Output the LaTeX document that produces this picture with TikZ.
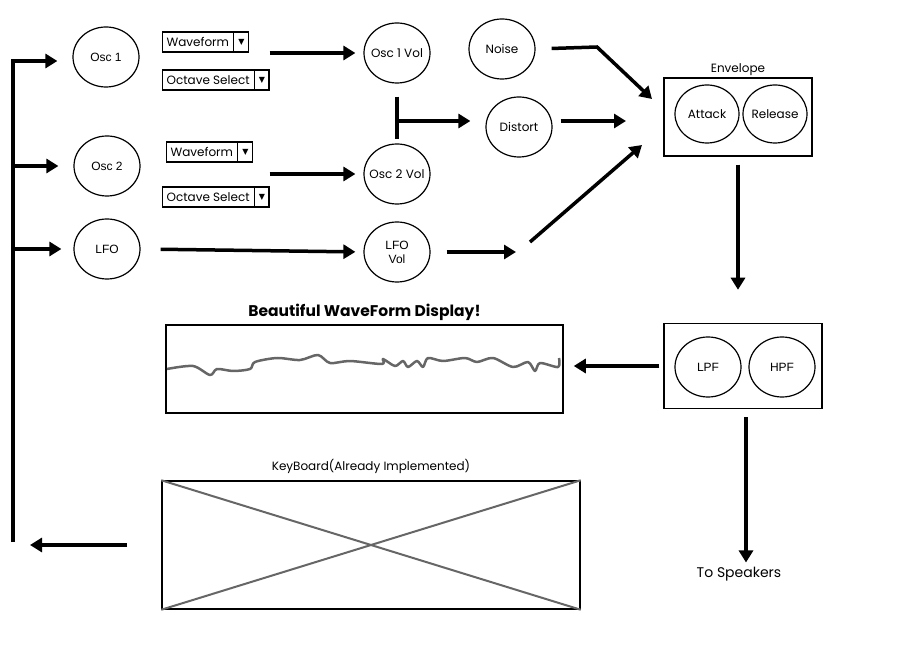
\documentclass[tikz,border=0pt]{standalone}
\usepackage{fontspec}
\setmainfont{Liberation Sans}
\newfontfamily\sketchfont{Poppins}
\newfontfamily\symfont{DejaVu Sans}
\usetikzlibrary{positioning,shapes.geometric,shapes.multipart,arrows.meta}

\tikzset{
  knob/.style={ellipse, draw, line width=1.2pt, minimum width=66pt, minimum height=60pt,
    inner xsep=-12pt, inner ysep=0pt, font=\fontsize{12}{14}\selectfont},
  sketch/.style={font=\sketchfont\fontsize{12}{14}\selectfont},
  dropbox/.style={rectangle split, rectangle split horizontal, rectangle split parts=2,
    draw, line width=1.2pt, inner xsep=4pt, inner ysep=5pt, anchor=west,
    font=\sketchfont\fontsize{12}{13}\selectfont},
  panel/.style={draw, line width=1.5pt, inner sep=0pt},
  flow/.style={->, line width=3.5pt},
}
\newcommand\dnarrow{{\symfont\fontsize{8}{9}\selectfont ▼}}

\begin{document}
\begin{tikzpicture}[x=1pt, y=-1pt, >={Triangle[length=12pt, width=14pt]}]
  \useasboundingbox (0,0) rectangle (908,668);

  % sources
  \node[knob] (osc1) at (106,57) {Osc 1};
  \node[knob] (osc2) at (107,166) {Osc 2};
  \node[knob] (lfo) at (107,249) {LFO};

  % selectors
  \node[dropbox] (wf1) at (162,42) {Waveform\nodepart{two}\dnarrow};
  \node[dropbox] (oct1) at (162,80) {Octave Select\nodepart{two}\dnarrow};
  \node[dropbox] (wf2) at (166,152) {Waveform\nodepart{two}\dnarrow};
  \node[dropbox] (oct2) at (162,197) {Octave Select\nodepart{two}\dnarrow};

  % volumes and effects
  \node[knob, sketch] (vol1) at (397,53) {Osc 1 Vol};
  \node[knob, sketch] (vol2) at (397,174) {Osc 2 Vol};
  \node[knob, align=center, inner xsep=0pt] (lfovol) at (397,252) {LFO\\Vol};
  \node[knob, sketch] (noise) at (502,49) {Noise};
  \node[knob, sketch] (distort) at (519,127) {Distort};

  % envelope
  \node[panel, minimum width=148pt, minimum height=78pt,
    label={[sketch, inner sep=1pt]above:Envelope}] (env) at (738,117) {};
  \node[knob, sketch, minimum width=64pt, minimum height=58pt] (attack) at (707,114) {Attack};
  \node[knob, sketch, minimum width=64pt, minimum height=58pt] (release) at (775,114) {Release};

  % filters
  \node[panel, minimum width=158pt, minimum height=85pt] (filt) at (743,366) {};
  \node[knob] (lpf) at (708,367) {LPF};
  \node[knob] (hpf) at (782,367) {HPF};
  \node[sketch, font=\sketchfont\fontsize{14}{16}\selectfont] (speak) at (739,574) {To Speakers};

  % display and keyboard
  \node[panel, minimum width=397pt, minimum height=88pt,
    label={[font=\sketchfont\bfseries\fontsize{15.5}{18}\selectfont, inner sep=3pt]above:Beautiful WaveForm Display!}] (wave) at (364.5,369) {};
  \draw[black!60, line width=2.5pt, line join=round] plot[smooth, tension=0.5] coordinates {
    (167,369) (193,366) (210,375) (217,369) (233,371) (250,369) (255,362) (277,358)
    (300,360) (318,355) (330,363) (350,361) (382,364) (383,359) (395,366) (403,361)
    (408,367) (417,361) (423,367) (428,358) (443,361) (465,358) (477,362) (493,358)
    (513,367) (528,362) (535,371) (540,363) (558,367) (559,358)};
  \node[panel, minimum width=418pt, minimum height=128pt,
    label={[sketch, inner sep=6pt]above:KeyBoard(Already Implemented)}] (kbd) at (371,545) {};
  \draw[black!60, line width=2pt] (kbd.north west) -- (kbd.south east);
  \draw[black!60, line width=2pt] (kbd.south west) -- (kbd.north east);

  % free ends
  \coordinate (busTop) at (13,61);
  \coordinate (busBot) at (13,542);
  \coordinate (kbOut) at (127,545);
  \coordinate (tap) at (397,121);
  \coordinate (bendA) at (597,47);
  \coordinate (mixA) at (652,99);
  \coordinate (mixB) at (626,121);
  \coordinate (mixC) at (516,252);
  \coordinate (mixD) at (530,242);
  \coordinate (mixE) at (642,145);

  % connectors
  \draw[flow, shorten >=15pt] (busBot) -- (busTop) -- (busTop -| osc1.west);
  \draw[flow, shorten >=15pt] (busTop |- osc2) -- (osc2.west);
  \draw[flow, shorten >=12pt] (busTop |- lfo) -- (lfo.west);
  \draw[flow, shorten >=17pt] (kbOut) -- (kbOut -| busBot);

  \draw[flow, shorten >=8pt] (vol1.west -| oct1.east) -- (vol1.west);
  \draw[flow, shorten >=8pt] (vol2.west -| oct2.east) -- (vol2.west);
  \draw[flow, shorten <=20pt, shorten >=8pt] (lfo.east) -- (lfovol.west);

  \draw[line width=3.5pt, shorten <=13pt, shorten >=4pt] (vol1.south) -- (vol2.north);
  \draw[flow, shorten >=15pt] (tap) -- (tap -| distort.west);
  \draw[flow, shorten <=8pt] (distort.east |- mixB) -- (mixB);
  \draw[flow, shorten <=16pt] (noise.east) -- (bendA) -- (mixA);
  \draw[flow, shorten <=16pt] (lfovol.east) -- (mixC);
  \draw[flow] (mixD) -- (mixE);

  \draw[flow, shorten <=8pt, shorten >=33pt] (env.south) -- (env.south |- filt.north);
  \draw[flow, shorten <=4pt, shorten >=10pt] (filt.west) -- (filt.west -| wave.east);
  \draw[flow, shorten <=8pt, shorten >=1pt] ([xshift=3pt]filt.south) -- ([xshift=3pt]filt.south |- speak.north);
\end{tikzpicture}
\end{document}
